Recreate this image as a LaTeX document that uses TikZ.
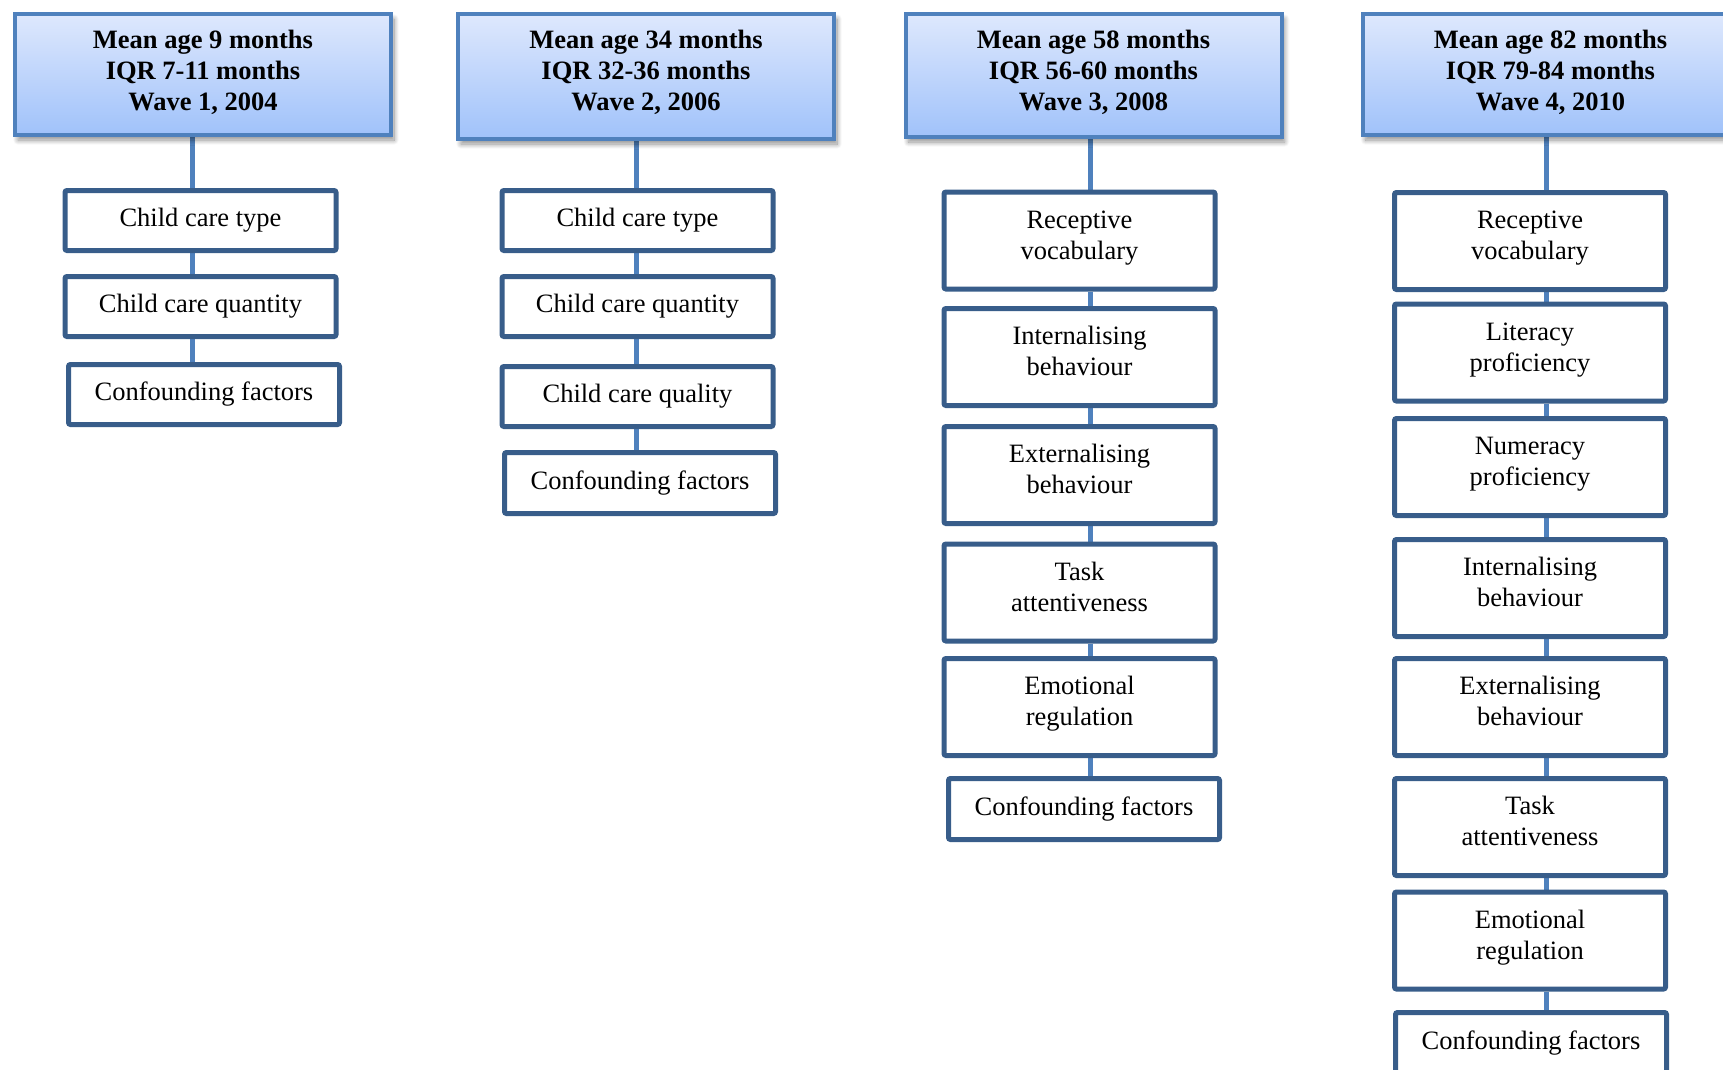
\documentclass[tikz,border=0pt]{standalone}
\usepackage{fontspec}
\setmainfont{Liberation Serif}
\usetikzlibrary{shadows,shadows.blur,backgrounds}
\definecolor{hdrline}{RGB}{79,129,189}
\definecolor{boxline}{RGB}{56,93,138}
\definecolor{conncol}{RGB}{79,129,189}
\definecolor{hdrtop}{RGB}{222,232,253}
\definecolor{hdrbot}{RGB}{160,194,250}
\begin{document}
\begin{tikzpicture}[x=1pt,y=-1pt,
 hdr/.style={draw=hdrline, line width=4pt, top color=hdrtop, bottom color=hdrbot,
   minimum width=376pt, minimum height=121pt, inner sep=0pt, align=center,
   font=\fontsize{26.5}{30.8}\selectfont\bfseries,
   text height=79.6pt, text depth=8.2pt,
   blur shadow={shadow xshift=3pt, shadow yshift=-5pt, shadow blur radius=5pt,
     shadow blur steps=10, shadow opacity=45}},
 item/.style={draw=boxline, line width=5pt, fill=white, rounded corners=2pt,
   minimum width=271pt, inner sep=0pt, align=center,
   font=\fontsize{26.5}{30.8}\selectfont},
 one/.style={item, minimum height=60pt},
 two/.style={item, minimum height=97pt, text height=49.8pt, text depth=12.8pt},
 conn/.style={draw=conncol, line width=5pt}]
\useasboundingbox (0,0) rectangle (1723,1069);

% headers
\node[hdr] (h1) at (203,74.5) {Mean age 9 months\\IQR 7-11 months\\Wave 1, 2004};
\node[hdr, minimum height=125pt, text depth=12.2pt] (h2) at (646,76.5) {Mean age 34 months\\IQR 32-36 months\\Wave 2, 2006};
\node[hdr, minimum height=123pt, text depth=10.2pt] (h3) at (1093.5,75.5) {Mean age 58 months\\IQR 56-60 months\\Wave 3, 2008};
\node[hdr] (h4) at (1550.5,74.5) {Mean age 82 months\\IQR 79-84 months\\Wave 4, 2010};

% column 1
\node[one] (a1) at (200.5,220.5) {Child care type};
\node[one] (a2) at (200.5,306.5) {Child care quantity};
\node[one] (a3) at (204,394.5) {Confounding factors};

% column 2
\node[one] (b1) at (637.5,220.5) {Child care type};
\node[one] (b2) at (637.5,306.5) {Child care quantity};
\node[one] (b3) at (637.5,396.5) {Child care quality};
\node[one, minimum height=61pt] (b4) at (640,483) {Confounding factors};

% column 3
\node[two] (c1) at (1079.5,240.5) {Receptive\\vocabulary};
\node[two] (c2) at (1079.5,357) {Internalising\\behaviour};
\node[two] (c3) at (1079.5,475) {Externalising\\behaviour};
\node[two] (c4) at (1079.5,592.5) {Task\\attentiveness};
\node[two] (c5) at (1079.5,707) {Emotional\\regulation};
\node[one, minimum height=61pt] (c6) at (1084,809) {Confounding factors};

% column 4
\node[two] (d1) at (1530,241) {Receptive\\vocabulary};
\node[two] (d2) at (1530,352.5) {Literacy\\proficiency};
\node[two] (d3) at (1530,467) {Numeracy\\proficiency};
\node[two] (d4) at (1530,588) {Internalising\\behaviour};
\node[two] (d5) at (1530,707) {Externalising\\behaviour};
\node[two] (d6) at (1530,827) {Task\\attentiveness};
\node[two] (d7) at (1530,940.5) {Emotional\\regulation};
\node[one, minimum height=61pt] (d8) at (1531,1043) {Confounding factors};

% connector x positions
\coordinate (x1) at (192,0);
\coordinate (x2) at (636,0);
\coordinate (x3) at (1090,0);
\coordinate (x4) at (1546,0);

\begin{pgfonlayer}{background}
\foreach \u/\v in {h1/a1,a1/a2,a2/a3}
  \draw[conn] (\u.south -| x1) -- (\v.north -| x1);
\foreach \u/\v in {h2/b1,b1/b2,b2/b3,b3/b4}
  \draw[conn] (\u.south -| x2) -- (\v.north -| x2);
\foreach \u/\v in {h3/c1,c1/c2,c2/c3,c3/c4,c4/c5,c5/c6}
  \draw[conn] (\u.south -| x3) -- (\v.north -| x3);
\foreach \u/\v in {h4/d1,d1/d2,d2/d3,d3/d4,d4/d5,d5/d6,d6/d7,d7/d8}
  \draw[conn] (\u.south -| x4) -- (\v.north -| x4);
\end{pgfonlayer}
\end{tikzpicture}
\end{document}
